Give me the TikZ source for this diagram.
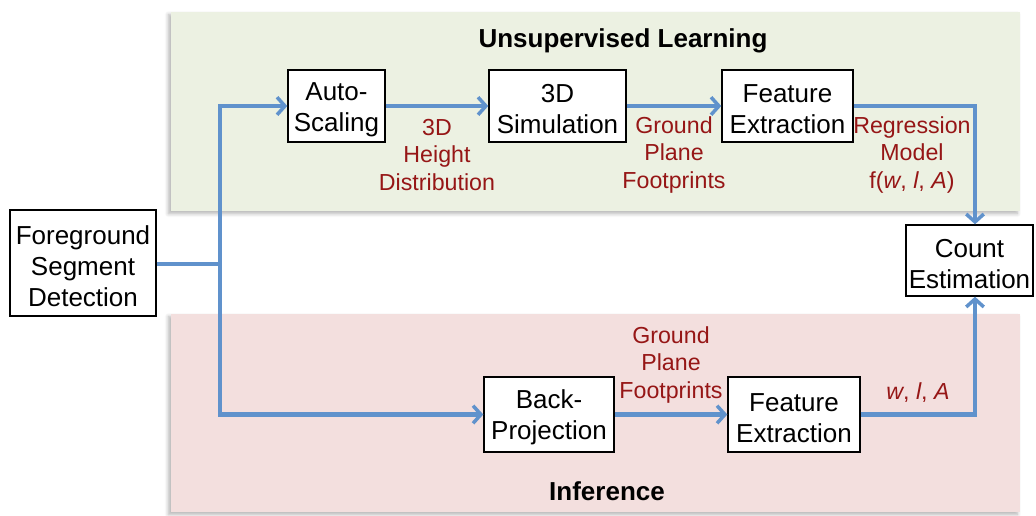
\documentclass[tikz,border=0pt]{standalone}
\usepackage{fontspec}
\setmainfont{Liberation Sans}
\usetikzlibrary{arrows.meta,shadows.blur}
\definecolor{panelgreen}{RGB}{236,241,226}
\definecolor{panelpink}{RGB}{243,223,222}
\definecolor{flowblue}{RGB}{96,146,204}
\definecolor{labelred}{RGB}{150,22,22}
\newcommand\boxlift{\rule{0pt}{14.2pt}}
\tikzset{
  panel/.style={draw=none, blur shadow={shadow xshift=-1.5pt, shadow yshift=-1.5pt, shadow blur steps=6, shadow opacity=30}},
  procbox/.style={draw=black, line width=0.8pt, fill=white, inner sep=0pt, align=center,
     font=\fontsize{14.8}{17.6}\selectfont},
  flow/.style={draw=flowblue, line width=2.3pt, -{Straight Barb[length=4.5pt,width=10pt,line width=2pt]}},
  flowline/.style={draw=flowblue, line width=2.3pt},
  lbl/.style={text=labelred, align=center, inner sep=0pt, font=\fontsize{13.2}{15.4}\selectfont},
  title/.style={inner sep=0pt, font=\fontsize{14.8}{17}\selectfont\bfseries}
}
\begin{document}
\begin{tikzpicture}[x=0.02cm,y=-0.02cm]
\useasboundingbox (0,0) rectangle (1036,516);
% panels
\fill[panel, fill=panelgreen] (171,12) rectangle (1020,211);
\fill[panel, fill=panelpink] (171,314) rectangle (1020,512);
\node[title] (tUL) at (623,41) {Unsupervised Learning};
\node[title] (tIN) at (607,491) {Inference};
% boxes
\node[procbox, minimum width=2.92cm, minimum height=2.12cm] (fg) at (83,263) {\boxlift Foreground\\Segment\\Detection};
\node[procbox, minimum width=1.94cm, minimum height=1.44cm] (auto) at (336.5,106) {\boxlift Auto-\\Scaling};
\node[procbox, minimum width=2.74cm, minimum height=1.44cm] (sim) at (557.5,106) {\boxlift 3D\\Simulation};
\node[procbox, minimum width=2.62cm, minimum height=1.44cm] (feat1) at (787.5,106) {\boxlift Feature\\Extraction};
\node[procbox, minimum width=2.54cm, minimum height=1.42cm] (count) at (969.5,260.5) {\boxlift Count\\Estimation};
\node[procbox, minimum width=2.60cm, minimum height=1.50cm] (back) at (549,414.5) {\boxlift Back-\\Projection};
\node[procbox, minimum width=2.64cm, minimum height=1.50cm] (feat2) at (794,414.5) {\boxlift Feature\\Extraction};
% labels
\node[lbl] (l1) at (437,155) {3D\\Height\\Distribution};
\node[lbl] (l2) at (674,155) {Ground\\Plane\\Footprints};
\node[lbl] (l3) at (912,155) {Regression\\Model\\f(\textit{w}, \textit{l}, \textit{A})};
\node[lbl] (l4) at (671,365) {Ground\\Plane\\Footprints};
\node[lbl] (l5) at (918,393) {\textit{w}, \textit{l}, \textit{A}};
% connectors
\coordinate (j) at (220,264);
\coordinate (rt) at (975,106);
\coordinate (rb) at (975,414.5);
\draw[flowline] (fg.east |- j) -- (j);
\draw[flow] (j) |- (auto.west);
\draw[flow] (j) |- (back.west);
\draw[flow] (auto.east) -- (sim.west);
\draw[flow] (sim.east) -- (feat1.west);
\draw[flow] (feat1.east) -- (rt) -- (count.north -| rt);
\draw[flow] (back.east) -- (feat2.west);
\draw[flow] (feat2.east) -- (rb) -- (count.south -| rb);
\end{tikzpicture}
\end{document}
